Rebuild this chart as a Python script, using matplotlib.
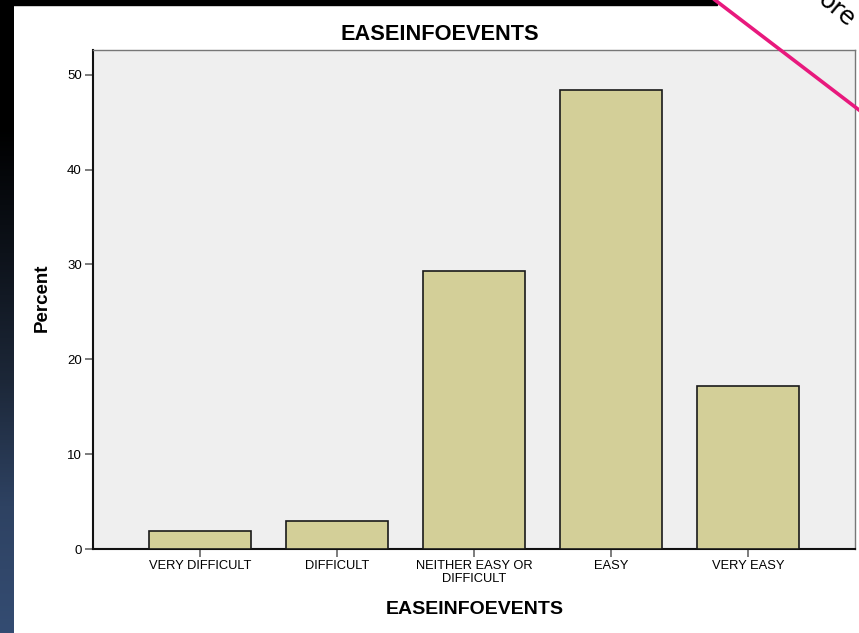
import matplotlib
matplotlib.use("Agg")
import matplotlib.pyplot as plt
import numpy as np
from matplotlib.colors import LinearSegmentedColormap
from matplotlib.lines import Line2D
from matplotlib.patches import Rectangle

categories = ["VERY DIFFICULT", "DIFFICULT", "NEITHER EASY OR\nDIFFICULT", "EASY", "VERY EASY"]
percent = [1.9, 2.9, 29.3, 48.4, 17.2]
yticks = [0, 10, 20, 30, 40, 50]
title = "EASEINFOEVENTS"
xlabel = "EASEINFOEVENTS"
ylabel = "Percent"

W, H = 859, 633
fig = plt.figure(figsize=(W / 100, H / 100), dpi=100)
fig.patch.set_facecolor("white")

def fx(px):
    return px / W

def fy(py):
    return 1 - py / H

# background decoration: dark left strip with gradient, black top strip
bg = fig.add_axes([0, 0, 1, 1], zorder=-10)
bg.axis("off")
cmap = LinearSegmentedColormap.from_list("side", ["#000000", "#000000", "#0d121a", "#1c2738", "#2e4262", "#344c72"])
grad = np.linspace(0, 1, 256).reshape(-1, 1)
bg.imshow(grad, extent=[0, 14, H, 0], cmap=cmap, aspect="auto")
bg.add_patch(Rectangle((0, 0), 717, 5, color="black"))
bg.set_xlim(0, W)
bg.set_ylim(H, 0)

ax = fig.add_axes([fx(93), fy(549), fx(855 - 93), fy(50) - fy(549)])
ax.set_facecolor("#efefef")
x = np.arange(len(categories))
ax.bar(x, percent, width=0.75, color="#d3cf98", edgecolor="#1a1a1a", linewidth=1.2, zorder=3)
ax.set_xlim(-0.78, len(categories) - 1 + 0.78)
ax.set_ylim(0, 52.6)
ax.set_yticks(yticks)
ax.set_xticks(x)
ax.set_xticklabels(categories, fontsize=9.3, family="Liberation Sans", linespacing=1.1)
ax.set_yticklabels([str(t) for t in yticks], fontsize=9.5, family="Liberation Sans")
ax.tick_params(axis="both", direction="out", length=6, width=1.2, color="#666666", pad=2)
for s in ["left", "bottom"]:
    ax.spines[s].set_color("#111111")
    ax.spines[s].set_linewidth(1.5)
for s in ["top", "right"]:
    ax.spines[s].set_color("#777777")
    ax.spines[s].set_linewidth(1.0)

fig.text(fx(440), fy(34), title, ha="center", va="center", fontsize=15.7,
         fontweight="bold", family="Liberation Sans")
fig.text(fx(475), fy(609), xlabel, ha="center", va="center", fontsize=14,
         fontweight="bold", family="Liberation Sans")
fig.text(fx(42), fy(298), ylabel, ha="center", va="center", rotation=90, fontsize=13.5,
         fontweight="bold", family="Liberation Sans")

# pink diagonal line and clipped rotated text in the top-right corner
over = fig.add_axes([0, 0, 1, 1], zorder=10)
over.set_xlim(0, W)
over.set_ylim(H, 0)
over.axis("off")
over.add_line(Line2D([715, 880], [0, 126], color="#e8197d", linewidth=2.6))
over.text(837, 10, "ore", rotation=-40, fontsize=18, family="DejaVu Sans",
          ha="center", va="center", color="black")

fig.savefig("out.png", dpi=100)
